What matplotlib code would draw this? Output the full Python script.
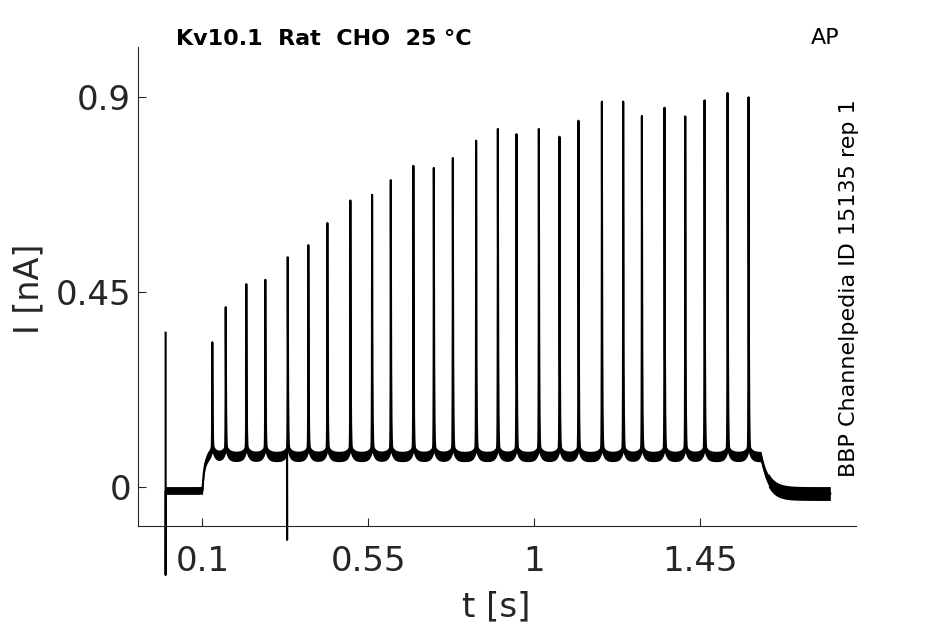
import numpy as np
import matplotlib
matplotlib.use("Agg")
import matplotlib.pyplot as plt

# spike peak times [s] and peak currents [nA]
spike_t = [0.1266, 0.1630, 0.2189, 0.2704, 0.3312, 0.3871, 0.4387, 0.5011, 0.5600,
           0.6107, 0.6720, 0.7274, 0.7790, 0.8422, 0.9011, 0.9516, 1.0123, 1.0683,
           1.1198, 1.1833, 1.2411, 1.2918, 1.3532, 1.4094, 1.4618, 1.5242, 1.5811]
spike_peak = [0.334, 0.415, 0.468, 0.478, 0.530, 0.558, 0.609, 0.661, 0.674,
              0.708, 0.741, 0.736, 0.759, 0.799, 0.826, 0.814, 0.826, 0.808,
              0.845, 0.889, 0.889, 0.856, 0.875, 0.855, 0.892, 0.909, 0.899]

# holding levels [nA] and step timing [s]
level_pre = -0.008
level_step = 0.070
level_post = -0.015
t_on = 0.100
t_off = 1.615
t_end = 1.803

# capacitive artifacts: (time, top, bottom)
artifact_t = [0.0, 0.3295]
artifact_top = [0.356, None]
artifact_bottom = [-0.203, -0.122]

xticks = [0.1, 0.55, 1, 1.45]
yticks = [0, 0.45, 0.9]

# build trace
dt = 0.0001
t = np.arange(0, t_end, dt)
base = np.full_like(t, level_pre)
on = t >= t_on
base[on] += (level_step - level_pre) * (1 - np.exp(-(t[on] - t_on) / 0.005))
off = t >= t_off
base[off] -= (level_step - level_post) * (1 - np.exp(-(t[off] - t_off) / 0.02))

tail_amp = 0.022
tails = np.zeros_like(t)
fast = np.zeros_like(t)
for ts, pk in zip(spike_t, spike_peak):
    d = t - ts
    tails += tail_amp * np.exp(-np.abs(d) / 0.007)
    a = pk - level_step - tail_amp
    fast += a * np.where(d < 0, np.exp(d / 0.0004), np.exp(-d / 0.0009))
trace = base + tails + fast

band = np.where(t < t_on, 0.009, np.where(t < t_off + 0.02, 0.012, 0.016))

# insert artifacts into the trace
tt = list(t)
yy = list(trace)
for at, top, bot in zip(artifact_t, artifact_top, artifact_bottom):
    i = int(np.searchsorted(t, at))
    pts = [p for p in (top, bot) if p is not None]
    for k, p in enumerate(pts):
        tt.insert(i + k, at)
        yy.insert(i + k, p)

fig = plt.figure(figsize=(9.45, 6.24), dpi=100)
ax = fig.add_axes([0.146, 0.157, 0.76, 0.768])

dark = '#262626'
ax.fill_between(t, base + tails - band, base + tails + band, color='black', lw=0)
ax.plot(tt, yy, color='black', lw=1.5, clip_on=False)

ax.set_xlim(-0.075, 1.873)
ax.set_ylim(-0.09, 1.0155)
ax.set_xticks(xticks)
ax.set_xticklabels(['0.1', '0.55', '1', '1.45'])
ax.set_yticks(yticks)
ax.set_yticklabels(['0', '0.45', '0.9'])
ax.tick_params(direction='in', length=6, width=0.8, colors=dark, labelsize=24.5)
ax.tick_params(axis='x', pad=14)
ax.tick_params(axis='y', pad=5)
for s in ['top', 'right']:
    ax.spines[s].set_visible(False)
for s in ['left', 'bottom']:
    ax.spines[s].set_color(dark)
    ax.spines[s].set_linewidth(0.8)

ax.set_xlabel('t [s]', fontsize=24.5, color=dark)
ax.set_ylabel('I [nA]', fontsize=24, color=dark)
ax.xaxis.set_label_coords(0.499, -0.135)
ax.yaxis.set_label_coords(-0.129, 0.494)

fig.text(0.186, 0.937, 'Kv10.1  Rat  CHO  25 °C', fontsize=16, fontweight='bold',
         ha='left', va='center')
fig.text(0.858, 0.939, 'AP', fontsize=16, ha='left', va='center')
fig.text(0.898, 0.539, 'BBP Channelpedia ID 15135 rep 1', fontsize=16,
         rotation=90, ha='center', va='center')

fig.savefig('out.png', dpi=100)
